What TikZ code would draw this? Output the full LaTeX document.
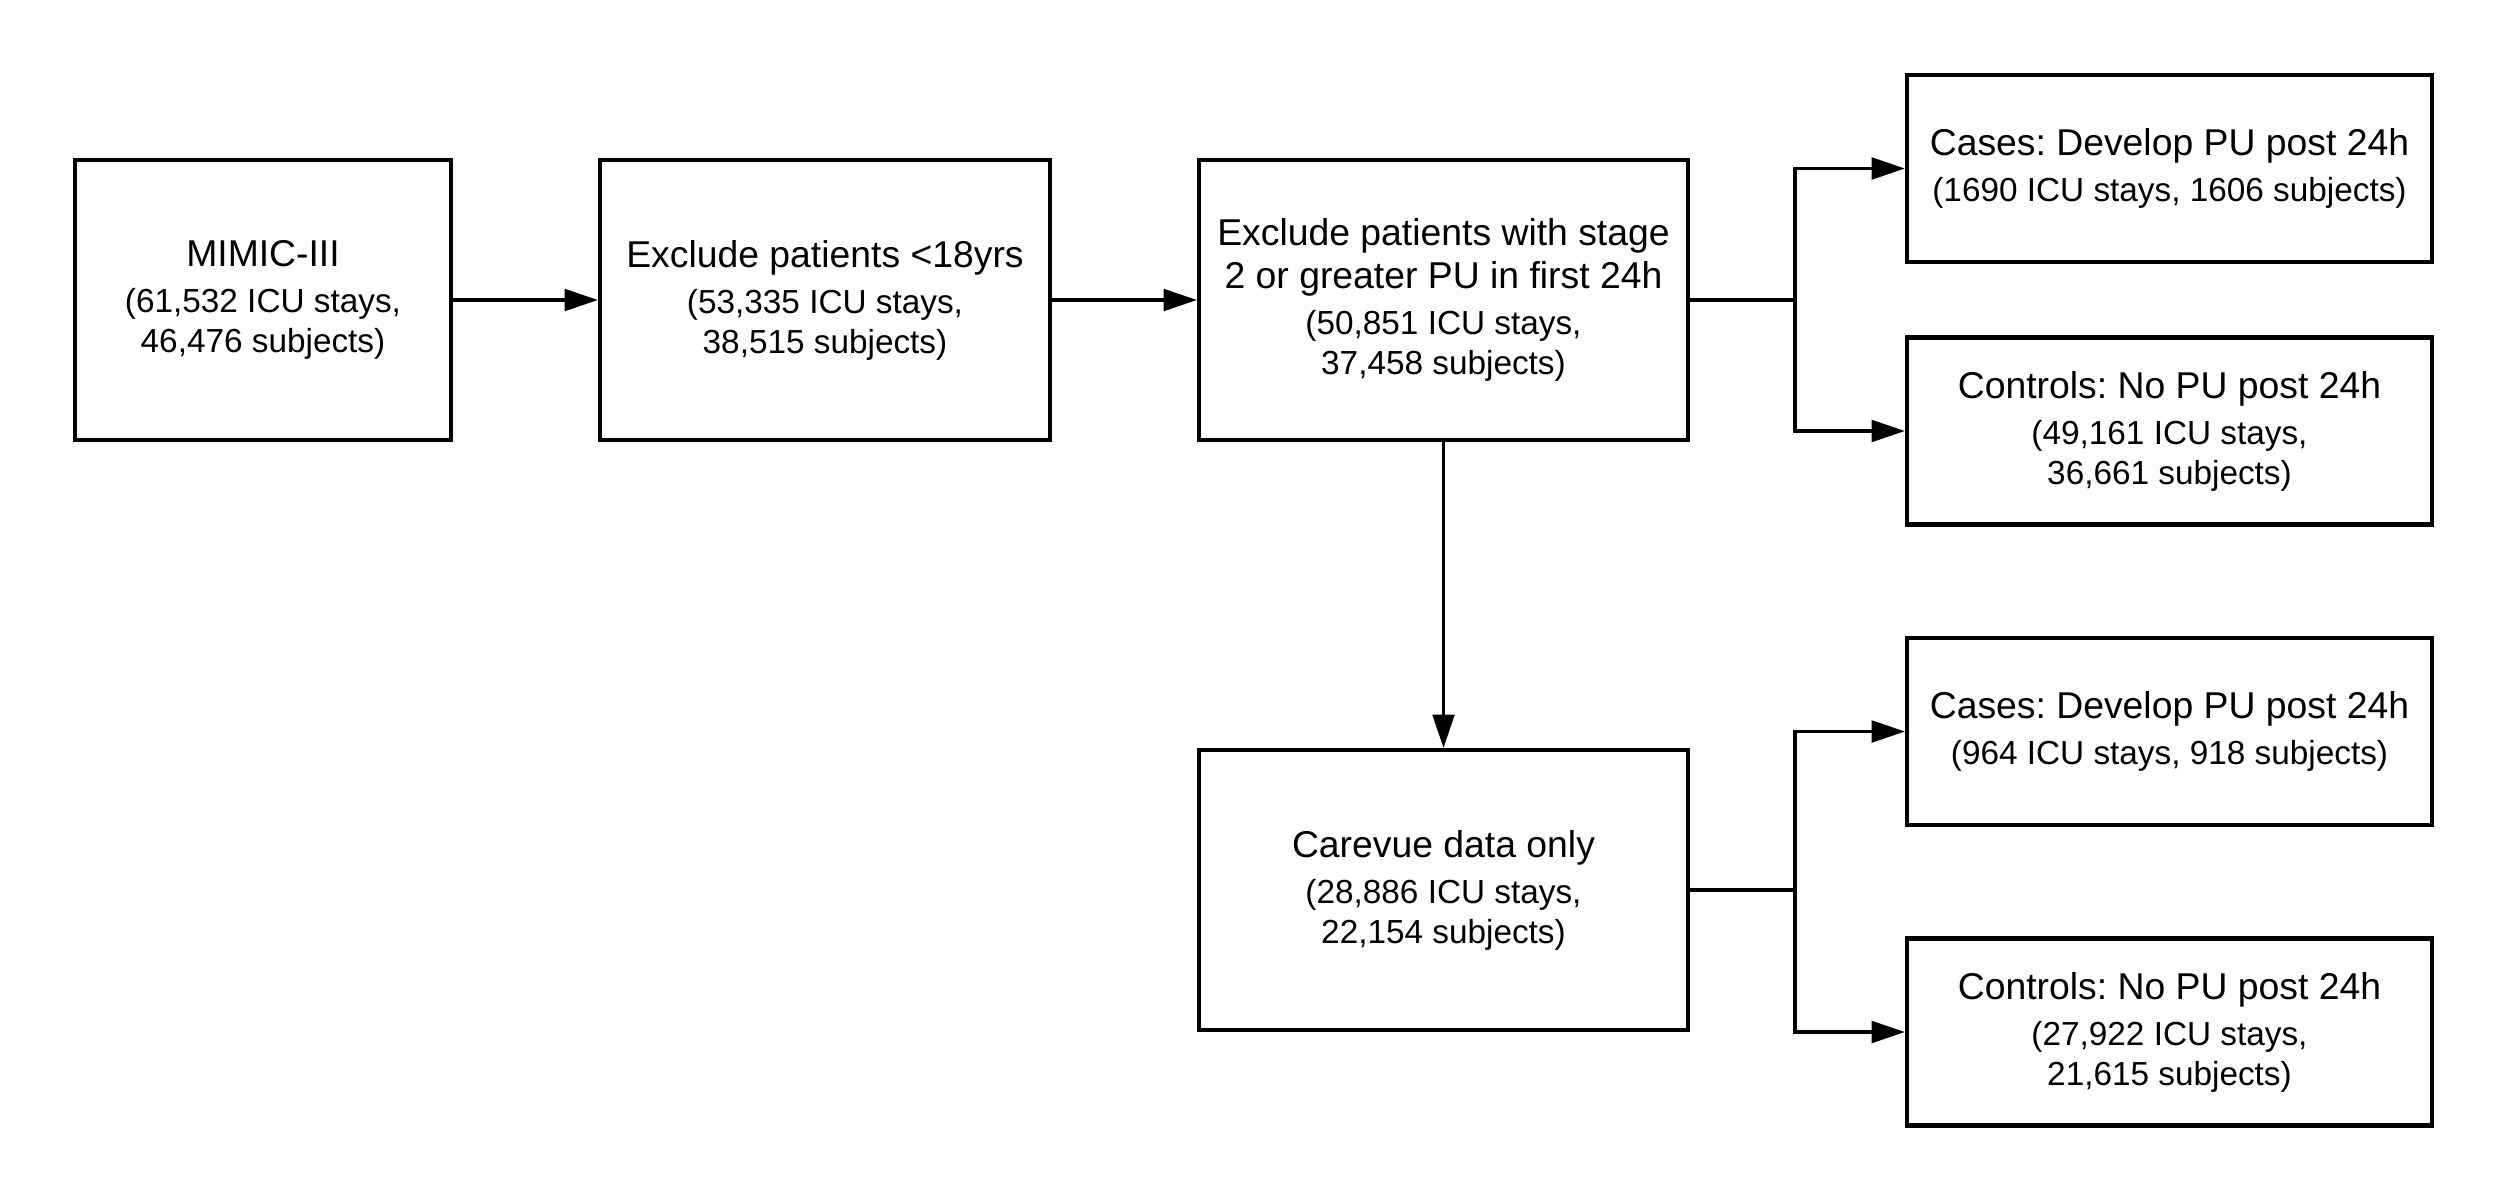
\documentclass[tikz,border=0pt]{standalone}
\usepackage{fontspec}
\setmainfont{Liberation Sans}
\usetikzlibrary{arrows.meta}
\frenchspacing
\newcommand{\ttl}{\fontsize{11.2}{12}\selectfont}
\newcommand{\sbt}{\fontsize{10}{12}\selectfont}
\tikzset{
  box/.style={draw=black, line width=1.25pt, rectangle, align=center, inner sep=0pt,
    font=\fontsize{10}{12}\selectfont, text=black},
  arr/.style={draw=black, line width=1.0pt, -{Triangle[length=10pt,width=6.5pt]}},
  ln/.style={draw=black, line width=1.0pt}
}
\begin{document}
\begin{tikzpicture}[x=0.3pt,y=-0.3pt]
\useasboundingbox (0,0) rectangle (2507,1200);
\node[box, minimum width=112.8pt, minimum height=84pt] (m) at (263,300)
  {\ttl MIMIC-III\\[1.8pt] \sbt (61,532 ICU stays,\\ \sbt 46,476 subjects)};
\node[box, minimum width=135pt, minimum height=84pt] (e18) at (825,300)
  {\ttl Exclude patients <18yrs\\[1.8pt] \sbt (53,335 ICU stays,\\ \sbt 38,515 subjects)};
\node[box, minimum width=146.7pt, minimum height=84pt] (s2) at (1443.5,300)
  {\ttl Exclude patients with stage\\[0.9pt] \ttl 2 or greater PU in first 24h\\[1.8pt] \sbt (50,851 ICU stays,\\ \sbt 37,458 subjects)};
\node[box, minimum width=157.5pt, minimum height=56.1pt] (c1) at (2169.5,168.5)
  {\ttl Cases: Develop PU post 24h\\[1.8pt] \sbt (1690 ICU stays, 1606 subjects)};
\node[box, minimum width=157.5pt, minimum height=56.1pt] (k1) at (2169.5,431)
  {\ttl Controls: No PU post 24h\\[1.8pt] \sbt (49,161 ICU stays,\\ \sbt 36,661 subjects)};
\node[box, minimum width=146.7pt, minimum height=84pt] (cv) at (1443.5,890)
  {\ttl Carevue data only\\[1.8pt] \sbt (28,886 ICU stays,\\ \sbt 22,154 subjects)};
\node[box, minimum width=157.5pt, minimum height=56.1pt] (c2) at (2169.5,731.5)
  {\ttl Cases: Develop PU post 24h\\[1.8pt] \sbt (964 ICU stays, 918 subjects)};
\node[box, minimum width=157.5pt, minimum height=56.1pt] (k2) at (2169.5,1032)
  {\ttl Controls: No PU post 24h\\[1.8pt] \sbt (27,922 ICU stays,\\ \sbt 21,615 subjects)};
\coordinate (bx) at (1795,0);
\draw[arr] (m) -- (e18);
\draw[arr] (e18) -- (s2);
\draw[arr] (s2) -- (cv);
\draw[ln] (s2.east) -- (s2.east -| bx);
\draw[arr] (s2.east -| bx) |- (c1.west);
\draw[arr] (s2.east -| bx) |- (k1.west);
\draw[ln] (cv.east) -- (cv.east -| bx);
\draw[arr] (cv.east -| bx) |- (c2.west);
\draw[arr] (cv.east -| bx) |- (k2.west);
\end{tikzpicture}
\end{document}
